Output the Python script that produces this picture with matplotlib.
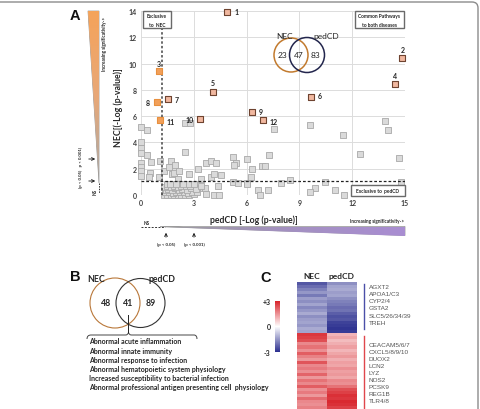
import matplotlib
matplotlib.use('Agg')
import matplotlib.pyplot as plt
import numpy as np
from matplotlib.patches import Polygon, Circle, FancyBboxPatch, Rectangle, PathPatch
from matplotlib.path import Path
from matplotlib.colors import LinearSegmentedColormap

plt.rcParams['font.family'] = ['Lato', 'DejaVu Sans']

# ---------------- data ----------------
# Panel A: highlighted pathways (pedCD -log p, NEC -log p)
hl_labels = ['1', '2', '3', '4', '5', '6', '7', '8', '9', '10', '11', '12']
hl_x = [4.9, 14.85, 1.0, 14.43, 4.09, 9.66, 1.52, 0.89, 6.29, 3.37, 1.08, 6.93]
hl_y = [13.95, 10.4, 9.4, 8.45, 7.84, 7.48, 7.3, 7.05, 6.34, 5.78, 5.73, 5.68]
hl_exclusive = ['3', '8', '11']

# Panel A: other pathways
gray_x = [0.0, 0.35, 0.0, 0.0, 0.0, 0.35, 0.0, 0.55, 0.0, 0.0, 0.5, 0.0, 0.45, 1.05,
          1.1, 1.3, 1.7, 1.6, 1.95, 1.75, 1.85, 2.15, 2.1, 2.5, 2.8, 2.5, 2.75, 3.25,
          3.4, 3.7, 4.0, 3.95, 4.25, 4.55, 4.15, 5.25, 5.4, 5.3, 6.0, 6.3, 6.25, 6.85,
          7.05, 7.3, 7.55, 5.2, 5.5, 6.05, 6.0, 7.95, 8.45, 9.6, 9.9, 9.6, 10.45, 11.0,
          11.5, 11.55, 12.45, 13.85, 14.05, 14.65, 14.75, 6.65, 6.75, 7.2, 4.15, 4.45,
          3.7, 3.3, 3.65, 4.4,
          1.3, 1.5, 1.7, 1.9, 2.1, 2.3, 2.5, 2.75, 3.0,
          1.35, 1.6, 1.8, 2.0, 2.2, 2.45, 2.65, 2.9, 3.2,
          1.4, 1.55, 1.75, 1.95, 2.15, 2.35, 2.6, 2.85, 3.1,
          1.3, 1.5, 1.7, 1.9, 2.1, 2.3, 2.55, 2.8, 3.4,
          1.45, 1.65, 2.0, 2.4, 2.7, 3.0]
gray_y = [5.2, 4.95, 4.05, 3.55, 3.2, 3.05, 2.45, 2.5, 2.1, 1.8, 1.65, 1.45, 1.35, 1.35,
          2.55, 1.8, 2.55, 2.15, 2.3, 1.6, 1.65, 1.85, 1.25, 5.5, 5.45, 3.3, 1.6, 2.0,
          1.2, 2.4, 2.6, 1.35, 2.45, 1.5, 1.6, 2.9, 2.45, 2.3, 2.75, 2.0, 1.4, 2.2,
          2.2, 3.05, 5.0, 1.0, 0.95, 0.95, 0.8, 0.95, 1.15, 5.35, 0.5, 0.2, 1.0, 0.4,
          4.6, 0.0, 3.1, 5.65, 4.95, 2.8, 1.0, 0.35, 0.0, 0.4, 0.0, 0.0,
          0.1, 0.55, 0.55, 0.65,
          0.0, 0.0, 0.0, 0.0, 0.0, 0.0, 0.0, 0.0, 0.05,
          0.2, 0.25, 0.15, 0.2, 0.25, 0.2, 0.15, 0.2, 0.25,
          0.4, 0.45, 0.4, 0.5, 0.4, 0.45, 0.4, 0.5, 0.45,
          0.6, 0.65, 0.6, 0.7, 0.6, 0.7, 0.65, 0.7, 0.7,
          0.85, 0.8, 0.85, 0.8, 0.85, 0.8]

nec_threshold = 1.05
pedcd_threshold = 1.2

venn_a_sets = ['NEC', 'pedCD']
venn_a_counts = [23, 47, 83]

# Panel B
venn_b_sets = ['NEC', 'pedCD']
venn_b_counts = [48, 41, 89]
phenotypes = ['Abnormal acute inflammation',
              'Abnormal innate immunity',
              'Abnormal response to infection',
              'Abnormal hematopoietic system physiology',
              'Increased susceptibility to bacterial infection',
              'Abnormal professional antigen presenting cell  physiology']

# Panel C heatmap
heat_cols = ['NEC', 'pedCD']
nec_values = [-2.4, -2.1, -1.8, -1.5, -1.9, -1.4, -1.6, -1.3, -1.7, -1.5, -1.2, -1.6,
              -1.4, -1.3, -1.5, -1.2, -1.3,
              2.7, 2.6, 2.4, 1.6, 1.9, 1.5, 2.2, 1.7, 1.4, 2.3, 1.6, 1.8, 1.5, 2.1,
              1.4, 1.9, 1.6, 2.2, 1.5, 1.8, 1.4, 2.0, 1.6, 1.5, 1.7]
pedcd_values = [-1.6, -1.3, -1.2, -1.4, -1.3, -1.6, -1.8, -1.9, -2.1, -2.0, -2.3, -2.5,
                -2.4, -2.7, -2.8, -2.9, -2.8,
                1.0, 1.2, 0.9, 1.1, 1.3, 1.0, 1.2, 1.4, 1.1, 1.3, 1.2, 1.5, 1.3, 1.4,
                1.2, 1.6, 1.5, 1.9, 2.4, 2.6, 2.8, 2.7, 2.9, 2.8, 2.6]
down_genes = ['AGXT2', 'APOA1/C3', 'CYP2/4', 'GSTA2', 'SLC5/26/34/39', 'TREH']
up_genes = ['CEACAM5/6/7', 'CXCL5/8/9/10', 'DUOX2', 'LCN2', 'LYZ', 'NOS2', 'PCSK9',
            'REG1B', 'TLR4/8']
cbar_ticks = [-3, 0, 3]
cbar_labels = ['-3', '0', '+3']

# ---------------- figure ----------------
W, H = 481, 410
fig = plt.figure(figsize=(W / 100, H / 100), dpi=100)


def rect(x0, y0, x1, y1):
    return [x0 / W, 1 - y1 / H, (x1 - x0) / W, (y1 - y0) / H]


BOLD = 'bold'
TXT = '#262626'

# ---- Panel A scatter ----
axA = fig.add_axes(rect(141, 12, 405, 196))
axA.patch.set_alpha(0)
axA.set_xlim(0, 15)
axA.set_ylim(0, 14)
axA.set_xticks([0, 3, 6, 9, 12, 15])
axA.set_yticks([0, 2, 4, 6, 8, 10, 12, 14])
axA.grid(True, color='#dcdcdc', lw=0.7)
axA.set_axisbelow(True)
for s in axA.spines.values():
    s.set_visible(False)
axA.tick_params(length=0, labelsize=5, pad=3, labelcolor='#404040')
for lab in axA.get_xticklabels() + axA.get_yticklabels():
    lab.set_fontweight('bold')

axA.scatter(gray_x, gray_y, marker='s', s=24, facecolor='#dadada', edgecolor='#a9a9a9',
            linewidths=0.6, clip_on=False, zorder=3)
axA.axhline(nec_threshold, color='#222222', lw=0.9, ls=(0, (2.2, 1.6)), zorder=4)
axA.axvline(pedcd_threshold, color='#444444', lw=1.1, ls=(0, (1.6, 1.4)), zorder=4)

for lab, x, y in zip(hl_labels, hl_x, hl_y):
    if lab in hl_exclusive:
        fc, ec = '#f2a05a', '#e8903f'
    else:
        fc, ec = '#f1b8a0', '#6e4330'
    axA.scatter([x], [y], marker='s', s=24, facecolor=fc, edgecolor=ec,
                linewidths=0.8, clip_on=False, zorder=5)

label_off = {'1': (5, 0, 'left'), '2': (0, 6, 'center'), '3': (0, 6, 'center'),
             '4': (0, 6, 'center'), '5': (0, 7, 'center'), '6': (5, 1, 'left'),
             '7': (5, 0, 'left'), '8': (-5, 0, 'right'), '9': (5, 0, 'left'),
             '10': (-5, 0, 'right'), '11': (5, -1, 'left'), '12': (5, -1, 'left')}
for lab, x, y in zip(hl_labels, hl_x, hl_y):
    dx, dy, ha = label_off[lab]
    axA.annotate(lab, (x, y), xytext=(dx, dy), textcoords='offset points',
                 ha=ha, va='center', fontsize=5, fontweight=BOLD, color=TXT, zorder=6)

# ---- Panel C heatmap ----
cmap = LinearSegmentedColormap.from_list('bwr2', ['#2b2f8f', '#ffffff', '#d8232a'])
axC = fig.add_axes(rect(297, 283, 357, 410))
heat = np.column_stack([nec_values, pedcd_values])
im = axC.imshow(heat, cmap=cmap, vmin=-3, vmax=3, aspect='auto', interpolation='nearest')
axC.axis('off')

cax = fig.add_axes(rect(275, 302, 280.5, 353))
cb = fig.colorbar(im, cax=cax, ticks=cbar_ticks)
cb.set_ticklabels(cbar_labels)
cb.outline.set_visible(False)
cax.yaxis.set_ticks_position('left')
cax.tick_params(length=0, labelsize=5, pad=3, labelcolor=TXT)
for lab in cax.get_yticklabels():
    lab.set_fontweight('bold')

# ---------------- overlay for decorations ----------------
ov = fig.add_axes([0, 0, 1, 1], zorder=10)
ov.patch.set_alpha(0)
ov.axis('off')

# figure border
ov.add_patch(FancyBboxPatch((-10, 3), 488, 440, boxstyle='round,pad=0,rounding_size=6',
                            ec='#8c8c8c', fc='none', lw=1.0, clip_on=False))

# panel letters
for letter, (x, y) in zip(['A', 'B', 'C'], [(75, 16), (75, 277), (266, 278)]):
    ov.text(x, y, letter, fontsize=10.5, fontweight='bold', ha='center', va='center',
            family=['Liberation Sans', 'DejaVu Sans'], color='#111111')

# axis labels A
ov.text(118, 108, 'NEC[(-Log (p-value)]', rotation=90, fontsize=6.3, fontweight=BOLD,
        ha='center', va='center', color=TXT)
ov.text(254, 220.5, 'pedCD [-Log (p-value)]', fontsize=6.3, fontweight=BOLD,
        ha='center', va='center', color=TXT)

# annotation boxes in A
def boxed(x0, y0, x1, y1, lines):
    ov.add_patch(Rectangle((x0, y0), x1 - x0, y1 - y0, fc='white', ec='#6a6a6a', lw=1.0))
    n = len(lines)
    for i, t in enumerate(lines):
        yy = y0 + (y1 - y0) * (i + 0.5) / n + (0.6 if n > 1 else 0)
        ov.text((x0 + x1) / 2, yy, t, fontsize=3.5, fontweight=BOLD, ha='center',
                va='center', color=TXT)

boxed(143, 12, 171, 29, ['Exclusive', 'to  NEC'])
boxed(355, 12, 404, 29, ['Common Pathways', 'to both diseases'])
boxed(351, 186, 405, 197, ['Exclusive to  pedCD'])

# Venn in A
ov.add_patch(Circle((291, 56), 17, fc='none', ec='#c27a2e', lw=1.1))
ov.add_patch(Circle((307, 56), 17.5, fc='none', ec='#23264d', lw=1.1))
for (x, y), c in zip([(283, 56), (299, 56), (315.5, 56)], venn_a_counts):
    ov.text(x, y, str(c), fontsize=6, ha='center', va='center', color=TXT)
ov.text(285, 36.5, venn_a_sets[0], fontsize=6, ha='center', va='center', color=TXT)
ov.text(326, 36.5, venn_a_sets[1], fontsize=6, ha='center', va='center', color=TXT)

# left (orange) wedge
cm_or = LinearSegmentedColormap.from_list('or', ['#f5a35a', '#e8a878', '#a8a8a8'])
poly_l = Polygon([(88, 12), (99, 12), (99, 184)], closed=True, fc='none',
                 ec='#8a8a8a', lw=0.5)
ov.add_patch(poly_l)
g = ov.imshow(np.linspace(0, 1, 256).reshape(-1, 1), extent=(88, 99, 184, 12),
              cmap=cm_or, aspect='auto', zorder=1)
g.set_clip_path(poly_l)
ov.text(105, 44, 'Increasing significativity->', rotation=90, fontsize=3.3,
        fontweight=BOLD, ha='center', va='center', color=TXT)
ov.annotate('', xy=(98, 160), xytext=(86, 160),
            arrowprops=dict(arrowstyle='->', lw=0.6, color='#111111', mutation_scale=5))
ov.annotate('', xy=(98, 182), xytext=(86, 182),
            arrowprops=dict(arrowstyle='->', lw=0.6, color='#111111', mutation_scale=5))
ov.text(81, 167, '(p < 0.05)   p < 0.001)', rotation=90, fontsize=3.2, fontweight=BOLD,
        ha='center', va='center', color=TXT)
ov.text(95, 192, 'NS', rotation=90, fontsize=3.3, fontweight=BOLD, ha='center',
        va='center', color=TXT)
ov.plot([99, 99], [184, 194], color='#333333', lw=0.7, ls=(0, (1.5, 1.2)))

# bottom (purple) wedge
cm_pu = LinearSegmentedColormap.from_list('pu', ['#9c9c9c', '#a391c0', '#a98dd2'])
poly_b = Polygon([(160, 227.5), (405, 227.5), (405, 236.5)], closed=True, fc='none',
                 ec='#8a8a8a', lw=0.5)
ov.add_patch(poly_b)
g2 = ov.imshow(np.linspace(0, 1, 256).reshape(1, -1), extent=(160, 405, 236.5, 227.5),
               cmap=cm_pu, aspect='auto', zorder=1)
g2.set_clip_path(poly_b)
ov.plot([141, 165], [227.5, 227.5], color='#333333', lw=0.7, ls=(0, (2, 1.5)))
ov.text(147, 224, 'NS', fontsize=3.3, fontweight=BOLD, ha='center', va='center', color=TXT)
ov.text(404, 221.5, 'Increasing significativity->', fontsize=3.3, fontweight=BOLD,
        ha='right', va='center', color=TXT)
for x, t in [(166, '(p < 0.05)'), (194, '(p < 0.001)')]:
    ov.annotate('', xy=(x, 231), xytext=(x, 241),
                arrowprops=dict(arrowstyle='->', lw=0.6, color='#111111', mutation_scale=5))
    ov.text(x, 244.5, t, fontsize=3.2, fontweight=BOLD, ha='center', va='center', color=TXT)

# Venn in B
ov.add_patch(Circle((115, 304), 25, fc='none', ec='#b9783a', lw=0.8))
ov.add_patch(Circle((140.5, 304), 24.5, fc='none', ec='#333333', lw=0.8))
for (x, y), c in zip([(106, 303.5), (128.5, 303.5), (151, 303.5)], venn_b_counts):
    ov.text(x, y, str(c), fontsize=6.3, fontweight=BOLD, ha='center', va='center', color=TXT)
ov.text(96, 280, venn_b_sets[0], fontsize=6.3, fontweight=BOLD, ha='center', va='center',
        color=TXT)
ov.text(162, 280, venn_b_sets[1], fontsize=6.3, fontweight=BOLD, ha='center', va='center',
        color=TXT)
ov.plot([128.5, 128.5], [316, 333], color='#222222', lw=0.7)
verts = [(87, 340), (87, 336), (91, 336), (125.5, 336), (128.5, 336), (128.5, 333),
         (128.5, 336), (131.5, 336), (194, 336), (197, 336), (197, 340)]
codes = [Path.MOVETO, Path.CURVE3, Path.CURVE3, Path.LINETO, Path.CURVE3, Path.CURVE3,
         Path.CURVE3, Path.CURVE3, Path.LINETO, Path.CURVE3, Path.CURVE3]
ov.add_patch(PathPatch(Path(verts, codes), fc='none', ec='#444444', lw=0.7))
for i, t in enumerate(phenotypes):
    ov.text(89, 342 + i * 9.1, t, fontsize=5, fontweight=BOLD, ha='left', va='center',
            color=TXT)

# Panel C headers and gene lists
ov.text(312, 277, heat_cols[0], fontsize=6, fontweight=BOLD, ha='center', va='center',
        color=TXT)
ov.text(342, 277, heat_cols[1], fontsize=6, fontweight=BOLD, ha='center', va='center',
        color=TXT)
ov.plot([364, 364], [285, 330], color='#4a4fa8', lw=1.0)
ov.plot([364, 364], [336.5, 412], color='#e0474c', lw=1.0)
for i, gname in enumerate(down_genes):
    ov.text(369, 287.3 + i * 7.2, gname, fontsize=4.6, ha='left', va='center',
            color='#555555', family=['Liberation Sans', 'DejaVu Sans'])
for i, gname in enumerate(up_genes):
    ov.text(369, 346 + i * 7.0, gname, fontsize=4.6, ha='left', va='center',
            color='#555555', family=['Liberation Sans', 'DejaVu Sans'])

ov.set_xlim(0, W)
ov.set_ylim(H, 0)

fig.savefig('out.png', dpi=100)
